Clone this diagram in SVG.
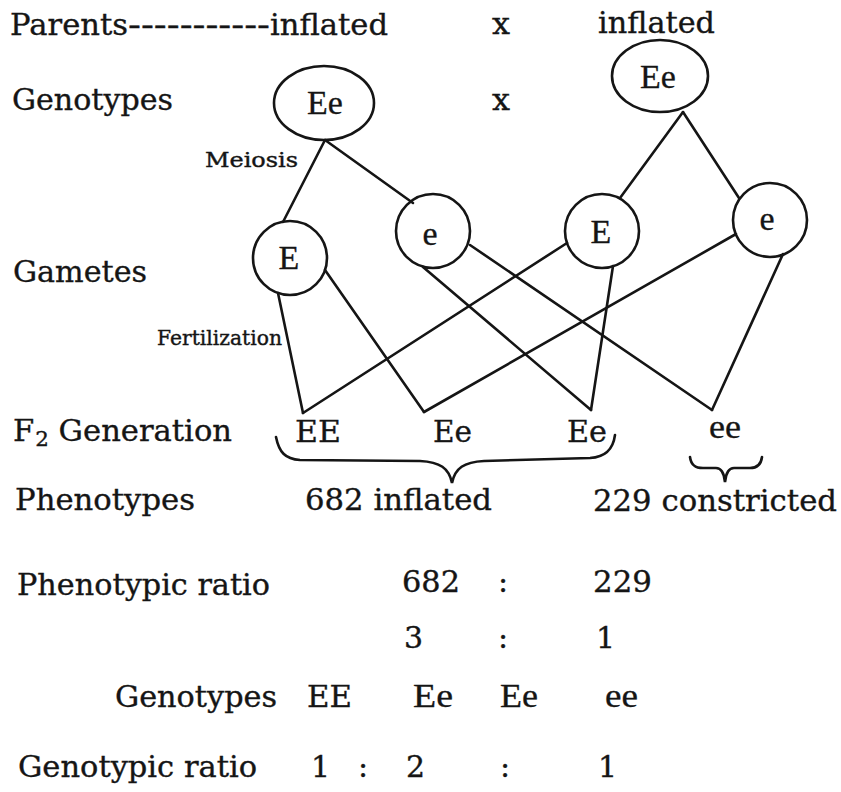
<svg xmlns="http://www.w3.org/2000/svg" width="841" height="792" viewBox="0 0 841 792">
  <style>
    .lbl { font-family: "DejaVu Serif", "Liberation Serif", serif; font-size: 30px; fill: #151515; stroke: #151515; stroke-width: 0.35px; }
    .sm { font-family: "DejaVu Serif", "Liberation Serif", serif; font-size: 20px; fill: #151515; stroke: #151515; stroke-width: 0.4px; }
    .nd { font-family: "Liberation Serif", "DejaVu Serif", serif; font-size: 34px; fill: #151515; stroke: #151515; stroke-width: 0.3px; }
    .shape { fill: none; stroke: #151515; stroke-width: 2.6; }
    .link { stroke: #151515; stroke-width: 2.6; stroke-linecap: round; fill: none; }
  </style>
  <rect width="841" height="792" fill="#ffffff"/>

  <!-- row labels -->
  <g id="labels">
    <text class="lbl" x="10" y="35" textLength="118" lengthAdjust="spacingAndGlyphs">Parents</text>
    <text class="lbl" x="128" y="35" textLength="142" lengthAdjust="spacingAndGlyphs">-----------</text>
    <text class="lbl" x="270" y="35" textLength="118" lengthAdjust="spacingAndGlyphs">inflated</text>
    <text class="lbl" x="492" y="34" font-size="26" textLength="18" lengthAdjust="spacingAndGlyphs">x</text>
    <text class="lbl" x="598" y="33" textLength="117" lengthAdjust="spacingAndGlyphs">inflated</text>

    <text class="lbl" x="12" y="110" textLength="161" lengthAdjust="spacingAndGlyphs">Genotypes</text>
    <text class="lbl" x="492" y="110" font-size="26" textLength="18" lengthAdjust="spacingAndGlyphs">x</text>
    <text class="sm" x="205" y="167" textLength="93" lengthAdjust="spacingAndGlyphs">Meiosis</text>

    <text class="lbl" x="13" y="282" textLength="134" lengthAdjust="spacingAndGlyphs">Gametes</text>
    <text class="sm" x="157" y="345" textLength="125" lengthAdjust="spacingAndGlyphs">Fertilization</text>

    <!-- F2 with subscript in one text run -->
    <text class="lbl" x="13" y="441" textLength="219" lengthAdjust="spacingAndGlyphs">F<tspan style="font-size:21px" dx="1" dy="5">2</tspan><tspan dy="-5"> Generation</tspan></text>

    <text class="lbl" x="15" y="510" textLength="180" lengthAdjust="spacingAndGlyphs">Phenotypes</text>
    <text class="lbl" x="305" y="510" textLength="187" lengthAdjust="spacingAndGlyphs">682 inflated</text>
    <text class="lbl" x="593" y="511" textLength="244" lengthAdjust="spacingAndGlyphs">229 constricted</text>

    <text class="lbl" x="17" y="595" textLength="253" lengthAdjust="spacingAndGlyphs">Phenotypic ratio</text>
    <text class="lbl" x="402" y="592" textLength="58" lengthAdjust="spacingAndGlyphs">682</text>
    <text class="lbl" x="498" y="592">:</text>
    <text class="lbl" x="593" y="592" textLength="59" lengthAdjust="spacingAndGlyphs">229</text>

    <text class="lbl" x="404" y="648">3</text>
    <text class="lbl" x="498" y="648">:</text>
    <text class="lbl" x="596" y="648">1</text>

    <text class="lbl" x="115" y="707" textLength="162" lengthAdjust="spacingAndGlyphs">Genotypes</text>
    <text class="lbl" x="307" y="707" textLength="45" lengthAdjust="spacingAndGlyphs">EE</text>
    <text class="nd" x="413" y="707" font-size="32" textLength="40" lengthAdjust="spacingAndGlyphs">Ee</text>
    <text class="nd" x="500" y="707" font-size="32" textLength="38" lengthAdjust="spacingAndGlyphs">Ee</text>
    <text class="nd" x="605" y="707" font-size="32" textLength="33" lengthAdjust="spacingAndGlyphs">ee</text>

    <text class="lbl" x="18" y="777" textLength="239" lengthAdjust="spacingAndGlyphs">Genotypic ratio</text>
    <text class="lbl" x="311" y="777">1</text>
    <text class="lbl" x="358" y="777">:</text>
    <text class="lbl" x="406" y="777">2</text>
    <text class="lbl" x="500" y="777">:</text>
    <text class="lbl" x="598" y="777">1</text>
  </g>

  <!-- parents -->
  <g id="parent-left">
    <ellipse class="shape" cx="324" cy="103" rx="50" ry="37"/>
    <text class="nd" x="325" y="114" text-anchor="middle">Ee</text>
  </g>
  <g id="parent-right">
    <ellipse class="shape" cx="660" cy="76" rx="48" ry="36"/>
    <text class="nd" x="658" y="88" text-anchor="middle">Ee</text>
  </g>

  <!-- gametes -->
  <g id="gamete-E1">
    <circle class="shape" cx="290" cy="258" r="37"/>
    <text class="nd" x="289" y="269" text-anchor="middle">E</text>
  </g>
  <g id="gamete-e1">
    <circle class="shape" cx="433" cy="231" r="37"/>
    <text class="nd" x="430" y="245" text-anchor="middle">e</text>
  </g>
  <g id="gamete-E2">
    <circle class="shape" cx="602" cy="231" r="37"/>
    <text class="nd" x="601" y="243" text-anchor="middle">E</text>
  </g>
  <g id="gamete-e2">
    <circle class="shape" cx="770" cy="220" r="37"/>
    <text class="nd" x="767" y="230" text-anchor="middle">e</text>
  </g>

  <!-- F2 offspring -->
  <g id="f2-EE">
    <text class="lbl" x="295" y="442" textLength="46" lengthAdjust="spacingAndGlyphs">EE</text>
  </g>
  <g id="f2-Ee1">
    <text class="lbl" x="433" y="442" textLength="39" lengthAdjust="spacingAndGlyphs">Ee</text>
  </g>
  <g id="f2-Ee2">
    <text class="lbl" x="567" y="442" textLength="40" lengthAdjust="spacingAndGlyphs">Ee</text>
  </g>
  <g id="f2-ee">
    <text class="nd" x="709" y="438" font-size="34" textLength="32" lengthAdjust="spacingAndGlyphs">ee</text>
  </g>

  <!-- braces grouping the offspring -->
  <g id="braces">
    <path class="link" d="M276,437 C279,452 285,459 300,460 L420,461 C440,462 449,468 452,483 C455,468 464,462 484,461 L590,458 C605,457 613,450 615,435"/>
    <path class="link" d="M690,457 C691,465 695,468 703,468 L716,468 C721,468 724,472 725,482 C726,472 729,468 734,468 L750,468 C757,468 761,465 762,457"/>
  </g>

  <!-- meiosis and fertilization lines -->
  <g id="connectors">
    <line class="link" x1="325" y1="140" x2="283" y2="222"/>
    <line class="link" x1="325" y1="140" x2="413" y2="203"/>
    <line class="link" x1="683" y1="112" x2="620" y2="198"/>
    <line class="link" x1="683" y1="112" x2="739" y2="198"/>

    <line class="link" x1="278" y1="293" x2="303" y2="413"/>
    <line class="link" x1="567" y1="243" x2="303" y2="413"/>
    <line class="link" x1="325" y1="270" x2="424" y2="412"/>
    <line class="link" x1="736" y1="234" x2="424" y2="412"/>
    <line class="link" x1="423" y1="267" x2="591" y2="410"/>
    <line class="link" x1="613" y1="266" x2="591" y2="410"/>
    <line class="link" x1="470" y1="245" x2="712" y2="410"/>
    <line class="link" x1="783" y1="254" x2="712" y2="410"/>
  </g>
</svg>
